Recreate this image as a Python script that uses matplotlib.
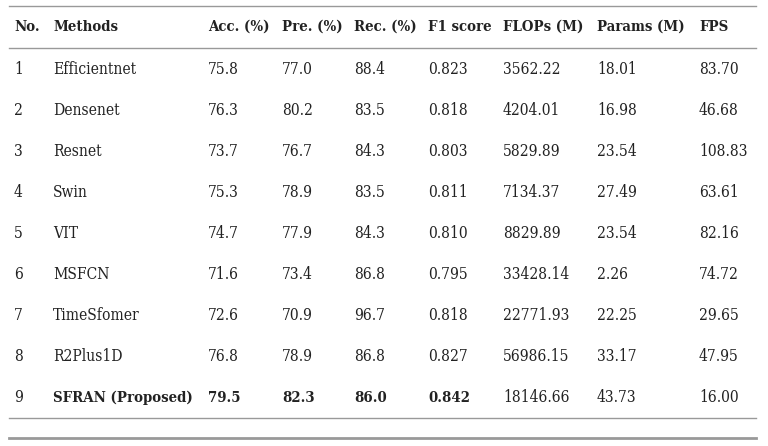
import matplotlib
matplotlib.use('Agg')
import matplotlib.pyplot as plt

headers = ['No.', 'Methods', 'Acc. (%)', 'Pre. (%)', 'Rec. (%)', 'F1 score', 'FLOPs (M)', 'Params (M)', 'FPS']
numbers = ['1', '2', '3', '4', '5', '6', '7', '8', '9']
methods = ['Efficientnet', 'Densenet', 'Resnet', 'Swin', 'VIT', 'MSFCN', 'TimeSfomer', 'R2Plus1D', 'SFRAN (Proposed)']
acc = ['75.8', '76.3', '73.7', '75.3', '74.7', '71.6', '72.6', '76.8', '79.5']
pre = ['77.0', '80.2', '76.7', '78.9', '77.9', '73.4', '70.9', '78.9', '82.3']
rec = ['88.4', '83.5', '84.3', '83.5', '84.3', '86.8', '96.7', '86.8', '86.0']
f1 = ['0.823', '0.818', '0.803', '0.811', '0.810', '0.795', '0.818', '0.827', '0.842']
flops = ['3562.22', '4204.01', '5829.89', '7134.37', '8829.89', '33428.14', '22771.93', '56986.15', '18146.66']
params = ['18.01', '16.98', '23.54', '27.49', '23.54', '2.26', '22.25', '33.17', '43.73']
fps = ['83.70', '46.68', '108.83', '63.61', '82.16', '74.72', '29.65', '47.95', '16.00']

W, H = 768, 446
col_x = [14, 53, 208, 282, 354, 428, 503, 597, 699]
header_base = 31
row_base0, row_dy = 74, 41
bold_cols = [1, 2, 3, 4, 5]  # bold for proposed row

fig = plt.figure(figsize=(W / 100, H / 100), dpi=100)
fig.patch.set_facecolor('white')
font = 'DejaVu Serif'
fs_reg = 11.2
fs_bold = 10.7
txtcolor = '#222222'

def put(x, y, s, weight='normal'):
    fs = fs_bold if weight == 'bold' else fs_reg
    fig.text(x / W, 1 - y / H, s, ha='left', va='baseline', fontsize=fs,
             family=font, fontstretch='condensed', weight=weight, color=txtcolor)

def hline(y, lw=1.0):
    fig.add_artist(plt.Line2D([9 / W, 756 / W], [1 - y / H, 1 - y / H],
                              color='#999999', lw=lw))

for x, h in zip(col_x, headers):
    put(x, header_base, h, weight='bold')

columns = [numbers, methods, acc, pre, rec, f1, flops, params, fps]
for i in range(len(methods)):
    y = row_base0 + i * row_dy
    last = i == len(methods) - 1
    for j, col in enumerate(columns):
        w = 'bold' if (last and j in bold_cols) else 'normal'
        put(col_x[j], y, col[i], weight=w)

hline(5.5)
hline(47.5)
hline(418)
hline(438, lw=2.0)

fig.savefig('out.png', dpi=100)
